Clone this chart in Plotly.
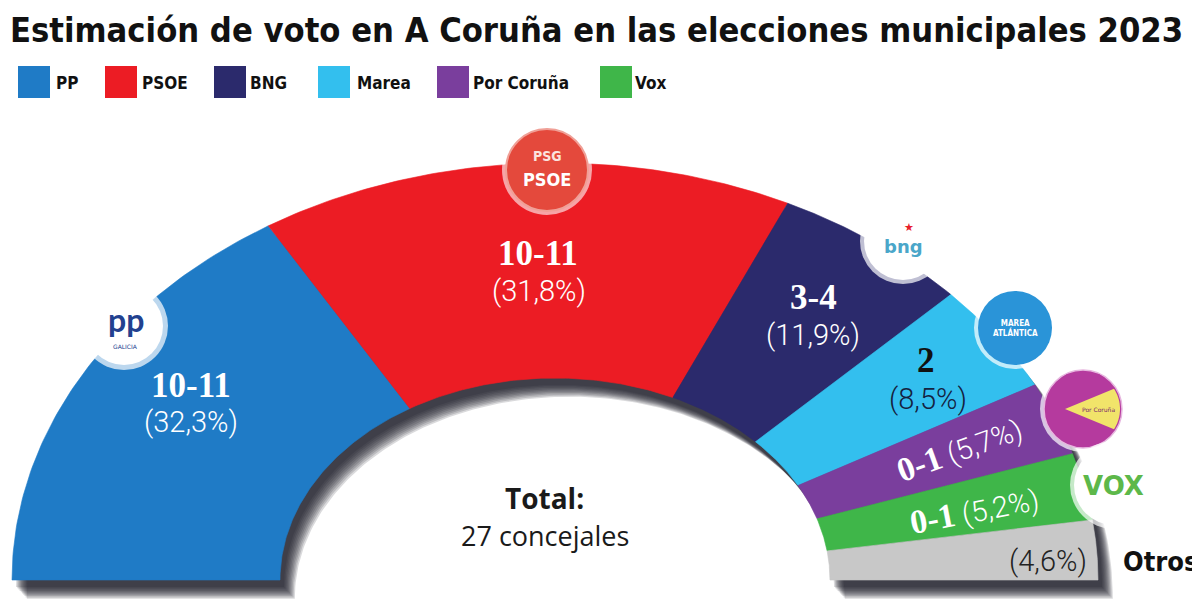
import numpy as np
import plotly.graph_objects as go

# ---------------- data ----------------
PARTIES = ["PP", "PSOE", "BNG", "Marea", "Por Coruña", "Vox", "Otros"]
VOTE_PCT = [32.3, 31.8, 11.9, 8.5, 5.7, 5.2, 4.6]
SEATS = ["10-11", "10-11", "3-4", "2", "0-1", "0-1", ""]
TOTAL_SEATS = 27
LEGEND_PARTIES = PARTIES[:6]
TITLE = "Estimación de voto en A Coruña en las elecciones municipales 2023"

# ---------------- style ----------------
COLORS = ["#1f7bc6", "#ec1c24", "#2b2a6c", "#33bfee", "#7a3e9d", "#3fb649", "#c8c8c8"]
W, H = 1200, 616
CX, CY = 547, 572          # centre of the hemicycle (px)
RXO, RYO = 543, 417        # outer radii
RXI, RYI = 275, 202        # inner radii
SERIF = "Liberation Serif"
LIGHT = "Roboto"
HEAVY = "DejaVu Sans Condensed"

fig = go.Figure()

pct = np.array(VOTE_PCT, dtype=float)
cum = np.concatenate([[0.0], np.cumsum(pct)]) / pct.sum()


def ring(c0, c1, dx=0.0, dy=0.0, n=90):
    t = np.linspace(np.pi * (1 - c0), np.pi * (1 - c1), n)
    x = np.concatenate([CX + RXO * np.cos(t), CX + RXI * np.cos(t[::-1])])
    y = np.concatenate([CY - RYO * np.sin(t), CY - RYI * np.sin(t[::-1])])
    x = np.append(x, x[0]) + dx
    y = np.append(y, y[0]) + dy
    return x, y


# blurred drop shadow
for k in range(10):
    sx, sy = ring(0.0, 1.0, dx=4 + k * 1.2, dy=7 + k * 1.3, n=200)
    fig.add_trace(go.Scatter(x=sx, y=sy, mode="lines", fill="toself",
                             fillcolor="rgba(25,25,35,0.16)", line=dict(width=0),
                             hoverinfo="skip", showlegend=False))

# hemicycle slices
for i, name in enumerate(PARTIES):
    sx, sy = ring(cum[i], cum[i + 1])
    fig.add_trace(go.Scatter(x=sx, y=sy, mode="lines", fill="toself", name=name,
                             fillcolor=COLORS[i], line=dict(width=0.6, color=COLORS[i]),
                             hoverinfo="name", showlegend=False))

shapes = []
ann = []


def text(x, y, s, size, color, family, xanchor="center", bold=False, angle=0, weight=None,
         xshift=0):
    f = dict(size=size, color=color, family=family)
    if weight is not None:
        f["weight"] = weight
    ann.append(dict(x=x, y=y, xref="x", yref="y", text=("<b>%s</b>" % s) if bold else s,
                    showarrow=False, xanchor=xanchor, yanchor="middle", font=f,
                    textangle=angle, xshift=xshift))


# title
text(0, 22, TITLE, 34.2, "#111111", HEAVY, xanchor="left", bold=True)

# legend
LEG_SQ_X = [10, 97, 206, 310, 429, 592]
LEG_TX_X = [46, 132, 240, 347, 463, 625]
for i, name in enumerate(LEGEND_PARTIES):
    shapes.append(dict(type="rect", xref="x", yref="y", x0=LEG_SQ_X[i], x1=LEG_SQ_X[i] + 32,
                       y0=58, y1=90, fillcolor=COLORS[i], line=dict(width=0)))
    text(LEG_TX_X[i], 75, name, 17, "#111111", HEAVY, xanchor="left", bold=True)


def pct_txt(v):
    return ("(%.1f%%)" % v).replace(".", ",")


# party logos (simplified)
def circle(cx, cy, r, fill, line_color=None, lw=0, opacity=1.0):
    shapes.append(dict(type="circle", xref="x", yref="y", x0=cx - r, x1=cx + r,
                       y0=cy - r, y1=cy + r, fillcolor=fill, opacity=opacity,
                       line=dict(width=lw, color=line_color or fill)))


# PP
circle(116, 318, 44, "white", opacity=0.7)
circle(116, 318, 39, "white")
text(118, 311, "pp", 32, "#22418f", "Lato", bold=True)
text(117, 338, "GALICIA", 6, "#22418f", "DejaVu Sans")
# PSOE
circle(539, 162, 45, "white", opacity=0.6)
circle(539, 162, 41, "#e4493c", line_color="#f0a097", lw=2)
text(539, 148, "PSG", 14, "#fbe3df", HEAVY, bold=True)
text(539, 171, "PSOE", 18, "white", HEAVY, bold=True)
# BNG
circle(895, 233, 43, "white", opacity=0.7)
circle(895, 233, 39, "white")
text(901, 219, "★", 11, "#e8202a", "DejaVu Sans")
text(895, 238, "bng", 18, "#4aa6c9", "DejaVu Sans", bold=True)
# Marea
circle(1007, 320, 41, "white", opacity=0.7)
circle(1007, 320, 37, "#2a94d8")
text(1007, 320, "MAREA<br>ATLÁNTICA", 8, "white", HEAVY, bold=True)
# Por Coruña
pcx, pcy, pr = 1075, 401, 39
circle(pcx, pcy, pr + 4, "white", opacity=0.7)
circle(pcx, pcy, pr, "#b53a9e", line_color="#e7b6df", lw=1.5)
a = np.linspace(np.radians(33), np.radians(-33), 20)
wx = np.concatenate([[pcx - 18], pcx + (pr - 2) * np.cos(a)])
wy = np.concatenate([[pcy], pcy - (pr - 2) * np.sin(a)])
path = "M " + " L ".join("%.1f,%.1f" % (px, py) for px, py in zip(wx, wy)) + " Z"
shapes.append(dict(type="path", xref="x", yref="y", path=path, fillcolor="#f1e46a",
                   line=dict(width=0)))
text(1090, 401, "Por Coruña", 6, "#7a2a6a", "DejaVu Sans")
# Vox
circle(1106, 477, 44, "white", opacity=0.7)
circle(1106, 477, 40, "white")
text(1105, 478, "VOX", 26, "#5db84a", "DejaVu Sans", bold=True)

# slice labels
LABEL_POS = {  # (seat label xy, pct label xy)
    "PP": ((183, 377), (183, 414)),
    "PSOE": ((530, 245), (531, 283)),
    "BNG": ((805, 289), (805, 327)),
    "Marea": ((918, 352), (920, 391)),
}
for i, name in enumerate(PARTIES):
    if name in LABEL_POS:
        (sx, sy), (px, py) = LABEL_POS[name]
        dark = name == "Marea"
        text(sx, sy, SEATS[i], 35, "#111111" if dark else "white", SERIF, bold=True)
        text(px, py, pct_txt(VOTE_PCT[i]), 29, "#15223f" if dark else "white", LIGHT,
             weight=300)

ROT_POS = {"Por Coruña": (951, 441, -20), "Vox": (966, 502, -11)}
for i, name in enumerate(PARTIES):
    if name in ROT_POS:
        x, y, ang = ROT_POS[name]
        s = ("<span style=\"font-family:Liberation Serif;font-weight:bold;font-size:34px\">%s</span> "
             "<span style=\"font-family:Roboto;font-weight:300;font-size:29px\">%s</span>") % (
            SEATS[i], pct_txt(VOTE_PCT[i]))
        ann.append(dict(x=x, y=y, xref="x", yref="y", text=s, showarrow=False,
                        xanchor="center", yanchor="middle", textangle=ang,
                        font=dict(color="white", size=29, family=LIGHT)))

# Otros
text(1040, 553, pct_txt(VOTE_PCT[6]), 29, "#222222", LIGHT, weight=300)
text(1113, 553, PARTIES[6], 27, "#111111", HEAVY, xanchor="left", bold=True)

# total
text(536, 490, "Total:", 28, "#1a1a1a", "Open Sans", bold=True)
text(537, 527, "%d concejales" % TOTAL_SEATS, 27, "#1a1a1a", "Open Sans")

fig.update_layout(
    width=W, height=H, autosize=False,
    margin=dict(l=0, r=0, t=0, b=0),
    paper_bgcolor="white", plot_bgcolor="white",
    xaxis=dict(range=[0, W], visible=False, fixedrange=True),
    yaxis=dict(range=[H, 0], visible=False, fixedrange=True),
    shapes=shapes, annotations=ann, showlegend=False,
)

fig.write_html("out.html")
